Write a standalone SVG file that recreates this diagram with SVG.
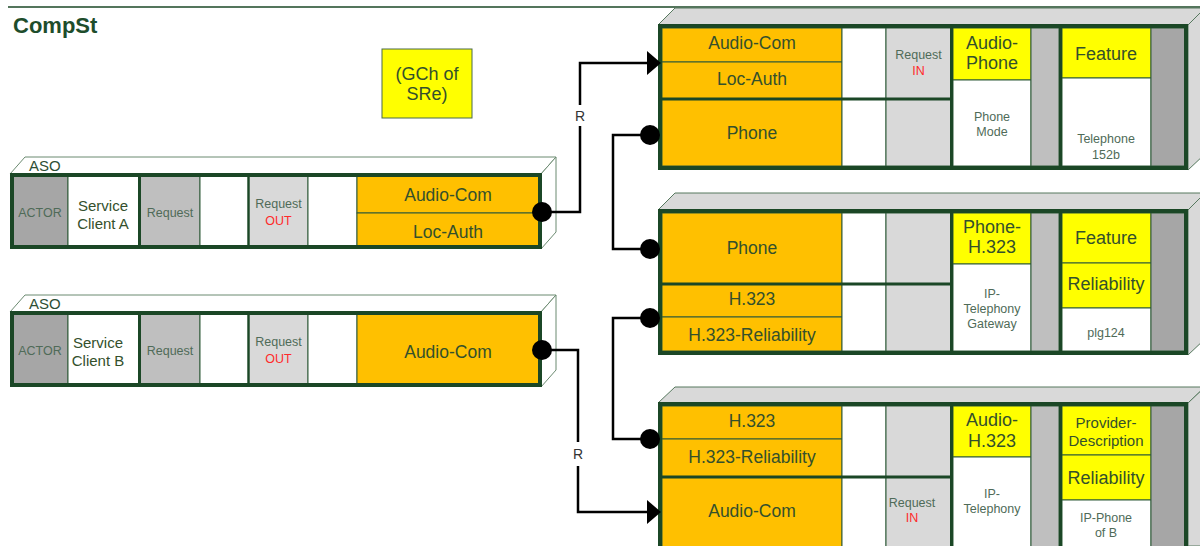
<svg xmlns="http://www.w3.org/2000/svg" width="1200" height="546" viewBox="0 0 1200 546">
<style>
.frame{fill:none;stroke:#1b4726;stroke-width:4}
.c{stroke:#2f5a38;stroke-width:1}
.org{fill:#ffc000}
.yel{fill:#ffff00}
.wht{fill:#ffffff}
.lg{fill:#d9d9d9}
.mg{fill:#bfbfbf}
.dg{fill:#a6a6a6}
.div{stroke:#1b4726;stroke-width:3;fill:none}
.asoface{fill:#ffffff;stroke:#6b8a70;stroke-width:1}
.face{fill:#d9d9d9;stroke:#56785e;stroke-width:1}
text{font-family:"Liberation Sans",Arial,Helvetica,sans-serif;text-anchor:middle}
.big{font-size:17.5px;fill:#34502c}
.ylw{font-size:18px;fill:#34502c}
.mid{font-size:15px;fill:#34502c}
.sm{font-size:12.5px;fill:#4f6b58}
.red{font-size:12.5px;fill:#ff2a2a}
.wire{fill:none;stroke:#000;stroke-width:2.5}
.lbl{font-size:14px;fill:#333333}
</style>

<line x1="8" y1="7" x2="1200" y2="7" stroke="#1b4726" stroke-width="1.5"/>

<g id="title">
<text x="13" y="33" style="text-anchor:start;font-size:22px;font-weight:bold;fill:#1e4d2b">CompSt</text>
</g>

<g id="gch">
<rect x="382" y="49" width="90" height="69" class="yel" stroke="#4a6b4a" stroke-width="1"/>
<text x="427" y="80" class="ylw">(GCh of</text>
<text x="427" y="100" class="ylw">SRe)</text>
</g>

<g id="aso-a">
<polygon class="asoface" points="10,174 25,157 556,157 541,174"/>
<polygon class="asoface" points="541,174 556,157 556,232 541,249"/>
<text x="29" y="171" style="text-anchor:start;font-size:15px;fill:#2f4f35">ASO</text>
<rect x="12" y="175" width="56" height="72" class="dg c"/>
<rect x="68" y="175" width="71" height="72" class="wht c"/>
<rect x="140" y="175" width="60" height="72" class="mg c"/>
<rect x="200" y="175" width="48" height="72" class="wht c"/>
<rect x="249" y="175" width="59" height="72" class="lg c"/>
<rect x="308" y="175" width="49" height="72" class="wht c"/>
<rect x="357" y="175" width="182" height="38" class="org c"/>
<rect x="357" y="213" width="182" height="34" class="org c"/>
<line x1="139.5" y1="175" x2="139.5" y2="247" class="div"/>
<line x1="248.5" y1="175" x2="248.5" y2="247" stroke="#1b4726" stroke-width="2"/>
<rect x="12" y="175" width="528" height="72" class="frame"/>
<text x="40" y="216.5" class="sm">ACTOR</text>
<text x="103" y="211" class="mid">Service</text>
<text x="103" y="229" class="mid">Client A</text>
<text x="170" y="216.5" class="sm">Request</text>
<text x="278.5" y="208" class="sm">Request</text>
<text x="278.5" y="224.5" class="red">OUT</text>
<text x="448" y="201" class="big">Audio-Com</text>
<text x="448" y="238" class="big">Loc-Auth</text>
</g>

<g id="aso-b" transform="translate(0,138)">
<polygon class="asoface" points="10,174 25,157 556,157 541,174"/>
<polygon class="asoface" points="541,174 556,157 556,232 541,249"/>
<text x="29" y="171" style="text-anchor:start;font-size:15px;fill:#2f4f35">ASO</text>
<rect x="12" y="175" width="56" height="72" class="dg c"/>
<rect x="68" y="175" width="71" height="72" class="wht c"/>
<rect x="140" y="175" width="60" height="72" class="mg c"/>
<rect x="200" y="175" width="48" height="72" class="wht c"/>
<rect x="249" y="175" width="59" height="72" class="lg c"/>
<rect x="308" y="175" width="49" height="72" class="wht c"/>
<rect x="357" y="175" width="182" height="72" class="org c"/>
<line x1="139.5" y1="175" x2="139.5" y2="247" class="div"/>
<line x1="248.5" y1="175" x2="248.5" y2="247" stroke="#1b4726" stroke-width="2"/>
<rect x="12" y="175" width="528" height="72" class="frame"/>
<text x="40" y="216.5" class="sm">ACTOR</text>
<text x="98" y="210" class="mid">Service</text>
<text x="98" y="228" class="mid">Client B</text>
<text x="170" y="216.5" class="sm">Request</text>
<text x="278.5" y="208" class="sm">Request</text>
<text x="278.5" y="224.5" class="red">OUT</text>
<text x="448" y="220" class="big">Audio-Com</text>
</g>

<g id="box1">
<polygon class="face" points="658,25 675,8 1205,8 1188,25"/>
<polygon class="face" points="1188,25 1205,8 1205,154 1188,170"/>
<rect x="662" y="28" width="180" height="34" class="org c"/>
<rect x="662" y="62" width="180" height="37" class="org c"/>
<rect x="662" y="99" width="180" height="67" class="org c"/>
<rect x="842" y="28" width="44" height="71" class="wht c"/>
<rect x="842" y="99" width="44" height="67" class="wht c"/>
<rect x="886" y="28" width="65" height="71" class="lg c"/>
<rect x="886" y="99" width="65" height="67" class="lg c"/>
<rect x="953" y="28" width="78" height="52" class="yel c"/>
<rect x="953" y="80" width="78" height="86" class="wht c"/>
<rect x="1031" y="28" width="28" height="138" class="mg c"/>
<rect x="1062" y="28" width="89" height="50" class="yel c"/>
<rect x="1062" y="78" width="89" height="88" class="wht c"/>
<rect x="1151" y="28" width="35" height="138" class="dg c"/>
<line x1="662" y1="99" x2="952" y2="99" class="div"/>
<line x1="951.5" y1="28" x2="951.5" y2="166" class="div"/>
<line x1="1060.5" y1="28" x2="1060.5" y2="166" class="div"/>
<rect x="660" y="26" width="526" height="142" class="frame"/>
<text x="752" y="49" class="big">Audio-Com</text>
<text x="752" y="85" class="big">Loc-Auth</text>
<text x="752" y="139" class="big">Phone</text>
<text x="918.5" y="58.5" class="sm">Request</text>
<text x="918.5" y="74.5" class="red">IN</text>
<text x="992" y="49" class="ylw">Audio-</text>
<text x="992" y="69" class="ylw">Phone</text>
<text x="992" y="120.5" class="sm">Phone</text>
<text x="992" y="135.5" class="sm">Mode</text>
<text x="1106" y="59.5" class="ylw">Feature</text>
<text x="1106" y="143" class="sm">Telephone</text>
<text x="1106" y="159" class="sm">152b</text>
</g>

<g id="box2">
<polygon class="face" points="658,210 675,193 1205,193 1188,210"/>
<polygon class="face" points="1188,210 1205,193 1205,339 1188,355"/>
<rect x="662" y="213" width="180" height="71" class="org c"/>
<rect x="662" y="284" width="180" height="33" class="org c"/>
<rect x="662" y="317" width="180" height="34" class="org c"/>
<rect x="842" y="213" width="44" height="71" class="wht c"/>
<rect x="842" y="284" width="44" height="67" class="wht c"/>
<rect x="886" y="213" width="65" height="71" class="lg c"/>
<rect x="886" y="284" width="65" height="67" class="lg c"/>
<rect x="953" y="213" width="78" height="51" class="yel c"/>
<rect x="953" y="264" width="78" height="87" class="wht c"/>
<rect x="1031" y="213" width="28" height="138" class="mg c"/>
<rect x="1062" y="213" width="89" height="50" class="yel c"/>
<rect x="1062" y="263" width="89" height="45" class="yel c"/>
<rect x="1062" y="308" width="89" height="43" class="wht c"/>
<rect x="1151" y="213" width="35" height="138" class="dg c"/>
<line x1="662" y1="284" x2="952" y2="284" class="div"/>
<line x1="951.5" y1="213" x2="951.5" y2="351" class="div"/>
<line x1="1060.5" y1="213" x2="1060.5" y2="351" class="div"/>
<rect x="660" y="211" width="526" height="142" class="frame"/>
<text x="752" y="254" class="big">Phone</text>
<text x="752" y="305" class="big">H.323</text>
<text x="752" y="341" class="big">H.323-Reliability</text>
<text x="992" y="233" class="ylw">Phone-</text>
<text x="992" y="253" class="ylw">H.323</text>
<text x="992" y="297.5" class="sm">IP-</text>
<text x="992" y="312.5" class="sm">Telephony</text>
<text x="992" y="327.5" class="sm">Gateway</text>
<text x="1106" y="244" class="ylw">Feature</text>
<text x="1106" y="290" class="ylw">Reliability</text>
<text x="1106" y="336.5" class="sm">plg124</text>
</g>

<g id="box3">
<polygon class="face" points="658,403 675,387 1205,387 1188,403"/>
<polygon class="face" points="1188,403 1205,387 1205,546 1188,546"/>
<rect x="662" y="406" width="180" height="33" class="org c"/>
<rect x="662" y="439" width="180" height="38" class="org c"/>
<rect x="662" y="477" width="180" height="71" class="org c"/>
<rect x="842" y="406" width="44" height="71" class="wht c"/>
<rect x="842" y="477" width="44" height="71" class="wht c"/>
<rect x="886" y="406" width="65" height="71" class="lg c"/>
<rect x="886" y="477" width="65" height="71" class="lg c"/>
<rect x="953" y="406" width="78" height="51" class="yel c"/>
<rect x="953" y="457" width="78" height="91" class="wht c"/>
<rect x="1031" y="406" width="28" height="142" class="mg c"/>
<rect x="1062" y="406" width="89" height="49" class="yel c"/>
<rect x="1062" y="455" width="89" height="45" class="yel c"/>
<rect x="1062" y="500" width="89" height="48" class="wht c"/>
<rect x="1151" y="406" width="35" height="142" class="dg c"/>
<line x1="662" y1="477" x2="952" y2="477" class="div"/>
<line x1="951.5" y1="406" x2="951.5" y2="548" class="div"/>
<line x1="1060.5" y1="406" x2="1060.5" y2="548" class="div"/>
<rect x="660" y="404" width="526" height="146" class="frame"/>
<text x="752" y="427" class="big">H.323</text>
<text x="752" y="463" class="big">H.323-Reliability</text>
<text x="752" y="517" class="big">Audio-Com</text>
<text x="912" y="506.5" class="sm">Request</text>
<text x="912" y="521.5" class="red">IN</text>
<text x="992" y="426" class="ylw">Audio-</text>
<text x="992" y="447" class="ylw">H.323</text>
<text x="992" y="497.5" class="sm">IP-</text>
<text x="992" y="512.5" class="sm">Telephony</text>
<text x="1106" y="427.5" class="mid">Provider-</text>
<text x="1106" y="445.5" class="mid">Description</text>
<text x="1106" y="484" class="ylw">Reliability</text>
<text x="1106" y="521.5" class="sm">IP-Phone</text>
<text x="1106" y="536.5" class="sm">of B</text>
</g>

<g id="connectors">
<path class="wire" d="M551,212 H580 V63 H650"/>
<polygon points="647,51 661,63 647,75" fill="#000"/>
<rect x="572" y="105" width="16" height="21" fill="#fff"/>
<text x="580" y="121" class="lbl">R</text>

<path class="wire" d="M650,135 H613 V249 H650"/>
<path class="wire" d="M650,318 H613 V439 H650"/>

<path class="wire" d="M551,350 H578 V512 H650"/>
<polygon points="647,500 661,512 647,524" fill="#000"/>
<rect x="570" y="442" width="16" height="24" fill="#fff"/>
<text x="578" y="459" class="lbl">R</text>

<circle cx="542" cy="212" r="10" fill="#000"/>
<circle cx="542" cy="350" r="10" fill="#000"/>
<circle cx="650" cy="135" r="10" fill="#000"/>
<circle cx="650" cy="249" r="10" fill="#000"/>
<circle cx="650" cy="318" r="10" fill="#000"/>
<circle cx="650" cy="439" r="10" fill="#000"/>
</g>
</svg>
